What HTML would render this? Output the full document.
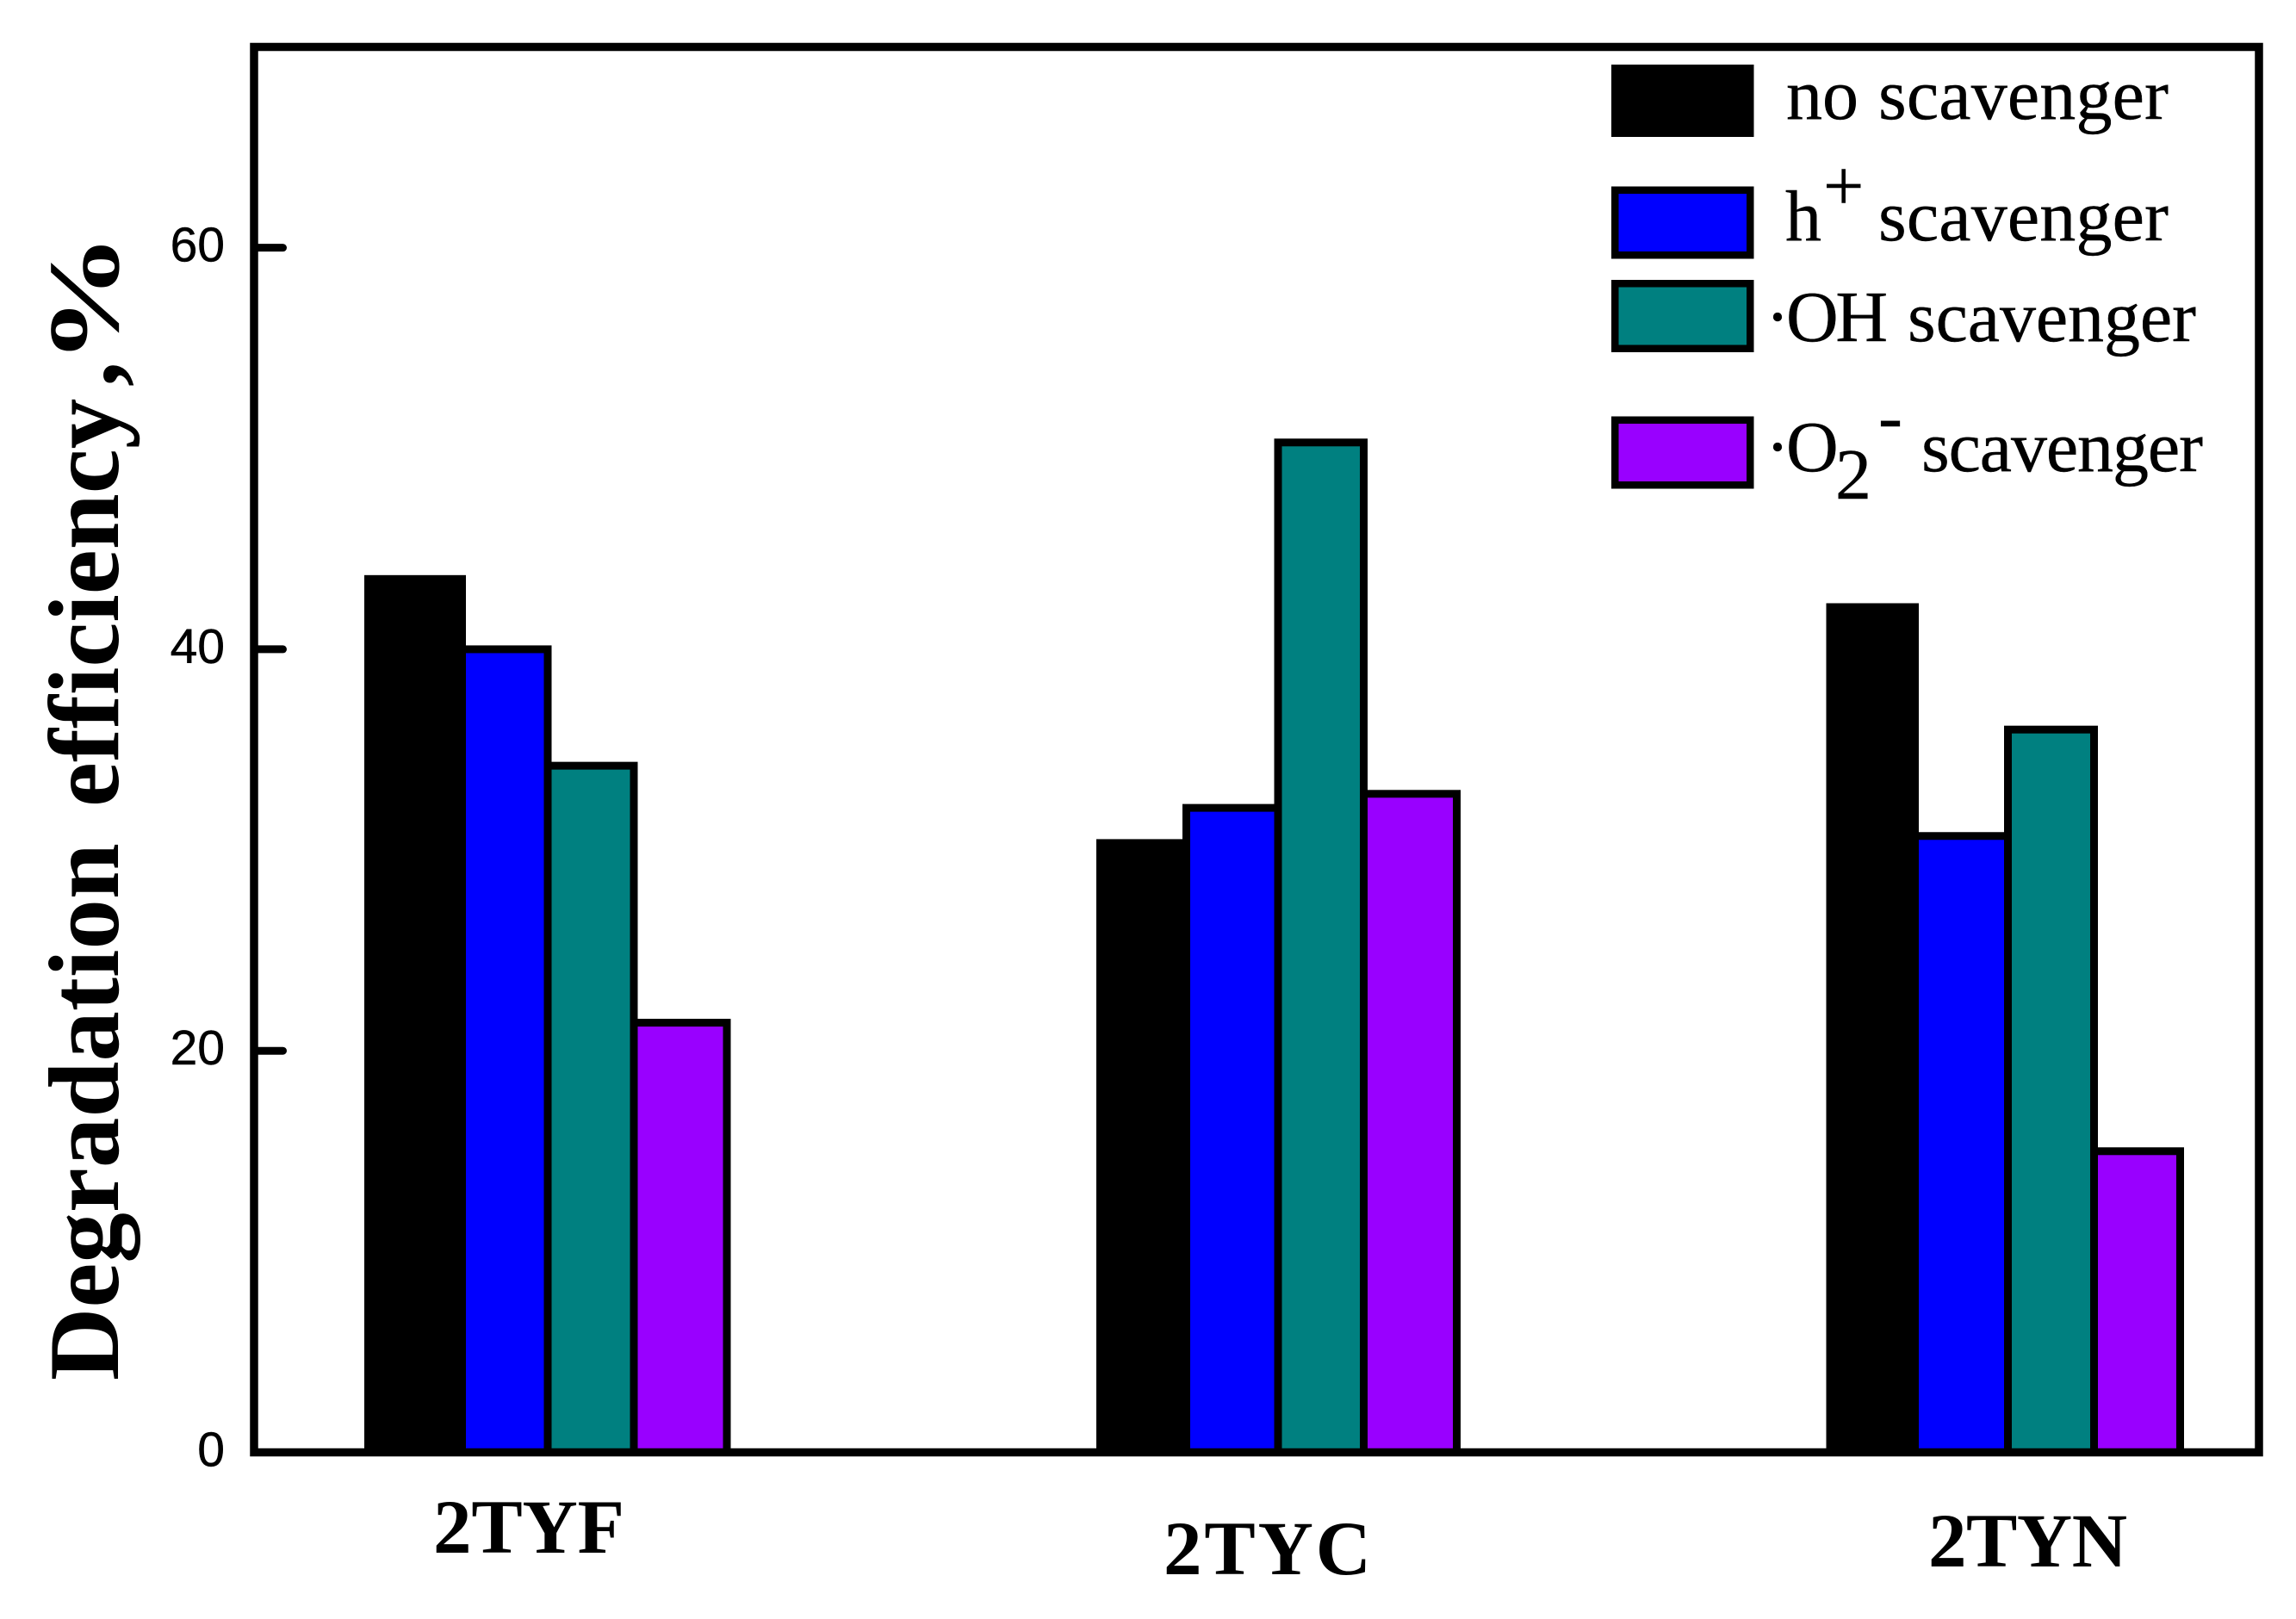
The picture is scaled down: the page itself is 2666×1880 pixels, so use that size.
<!DOCTYPE html>
<html lang="en">
<head>
<meta charset="utf-8">
<title>Degradation efficiency by scavenger</title>
<style>
html,body{margin:0;padding:0;background:#fff;width:2666px;height:1880px;overflow:hidden}
svg{display:block}
.serif{font-family:"Liberation Serif","Times New Roman",serif;fill:#000;font-variant-ligatures:none}
.sans{font-family:"Liberation Sans",Arial,sans-serif;fill:#000;stroke:#000;stroke-width:.5}
.leg{font-size:84px;stroke:#000;stroke-width:.4}
.cat{font-size:89px;font-weight:bold}
</style>
</head>
<body>
<svg id="chart" xmlns="http://www.w3.org/2000/svg" width="2666" height="1880" viewBox="0 0 2666 1880">
  <rect x="0" y="0" width="2666" height="1880" fill="#fff"/>
  <g id="bars"></g>
  <g id="ticks"></g>
  <rect x="295" y="54.5" width="2328" height="1632" fill="none" stroke="#000" stroke-width="9.5"/>
  <text class="serif" font-size="117" font-weight="bold" transform="translate(137 1603) rotate(-90)"><tspan x="0">Degradation</tspan> <tspan x="666">efficiency</tspan><tspan x="1154">,</tspan></text>
  <text class="serif" font-size="117" font-weight="bold" transform="translate(137 423) rotate(-90) scale(1.3 1)">%</text>
  <g id="cats"></g>
  <g id="legend">
    <rect x="1875.25" y="79.25" width="157" height="75.5" fill="#000" stroke="#000" stroke-width="8.5"/>
    <text class="serif leg" x="2074" y="138">no</text>
    <text class="serif leg" x="2181" y="138" textLength="337">scavenger</text>

    <rect x="1875.25" y="220.75" width="157" height="75.5" fill="#0000ff" stroke="#000" stroke-width="8.5"/>
    <text class="serif leg" x="2073" y="279">h</text>
    <text class="serif leg" x="2117" y="244">+</text>
    <text class="serif leg" x="2181" y="279" textLength="337">scavenger</text>

    <rect x="1875.25" y="329.25" width="157" height="75.5" fill="#008080" stroke="#000" stroke-width="8.5"/>
    <text class="serif leg" x="2050" y="396">·</text>
    <text class="serif leg" x="2074" y="396" textLength="118">OH</text>
    <text class="serif leg" x="2215" y="396" textLength="335">scavenger</text>

    <rect x="1875.25" y="487.75" width="157" height="75.5" fill="#9900ff" stroke="#000" stroke-width="8.5"/>
    <text class="serif leg" x="2050" y="547">·</text>
    <text class="serif leg" x="2074" y="547">O</text>
    <text class="serif leg" x="2131" y="579">2</text>
    <text class="serif leg" x="2181" y="511.5">-</text>
    <text class="serif leg" x="2231" y="547" textLength="327">scavenger</text>
  </g>
</svg>
<script>
const categories = ['2TYF', '2TYC', '2TYN'];
const seriesNames = ['no-scavenger', 'h-plus-scavenger', 'oh-scavenger', 'o2-scavenger'];
const noScavenger = [43.5, 30.35, 42.1];
const hPlusScavenger = [40.0, 32.1, 30.7];
const ohScavenger = [34.2, 50.3, 36.0];
const o2Scavenger = [21.4, 32.8, 15.0];
const yTicks = [0, 20, 40, 60];

const allSeries = [noScavenger, hPlusScavenger, ohScavenger, o2Scavenger];
const fills = ['#000000', '#0000ff', '#008080', '#9900ff'];
const NS = 'http://www.w3.org/2000/svg';

function yScale(v) {
  const y0 = 1686.5, yTop = 54.5, vMax = 70;
  return y0 - (v / vMax) * (y0 - yTop);
}

function barEdges(groupIndex, seriesIndex) {
  const layout = [
    [427.5, 536.5, 636, 736, 844],
    [1277.5, 1377.5, 1484, 1583.5, 1691.5],
    [2125, 2223.5, 2331.5, 2431.5, 2531.5]
  ];
  return [layout[groupIndex][seriesIndex], layout[groupIndex][seriesIndex + 1]];
}

const catPlacement = [
  { x: 503, y: 1803, w: 222 },
  { x: 1351, y: 1828, w: 241 },
  { x: 2239, y: 1819, w: 231 }
];

const barsGroup = document.getElementById('bars');
categories.forEach(function (cat, g) {
  allSeries.forEach(function (values, s) {
    const edges = barEdges(g, s);
    const top = yScale(values[g]);
    const r = document.createElementNS(NS, 'rect');
    r.setAttribute('x', edges[0]);
    r.setAttribute('y', top);
    r.setAttribute('width', edges[1] - edges[0]);
    r.setAttribute('height', yScale(0) - top);
    r.setAttribute('fill', fills[s]);
    r.setAttribute('stroke', '#000');
    r.setAttribute('stroke-width', '9');
    
    
    barsGroup.appendChild(r);
  });
});

const ticksGroup = document.getElementById('ticks');
yTicks.forEach(function (t) {
  const y = yScale(t);
  if (t !== 0) {
    const l = document.createElementNS(NS, 'line');
    l.setAttribute('x1', 296);
    l.setAttribute('x2', 328.5);
    l.setAttribute('y1', y);
    l.setAttribute('y2', y);
    l.setAttribute('stroke', '#000');
    l.setAttribute('stroke-width', '9');
    l.setAttribute('stroke-linecap', 'round');
    
    
    ticksGroup.appendChild(l);
  }
  const txt = document.createElementNS(NS, 'text');
  txt.setAttribute('x', 261);
  txt.setAttribute('y', y + 16);
  txt.setAttribute('text-anchor', 'end');
  txt.setAttribute('class', 'sans');
  txt.setAttribute('font-size', '57');
  txt.textContent = String(t);
  
  
  ticksGroup.appendChild(txt);
});

const catsGroup = document.getElementById('cats');
categories.forEach(function (cat, g) {
  const txt = document.createElementNS(NS, 'text');
  txt.setAttribute('x', catPlacement[g].x);
  txt.setAttribute('y', catPlacement[g].y);
  txt.setAttribute('textLength', catPlacement[g].w);
  txt.setAttribute('class', 'serif cat');
  txt.textContent = cat;
  
  
  catsGroup.appendChild(txt);
});
</script>
</body>
</html>
